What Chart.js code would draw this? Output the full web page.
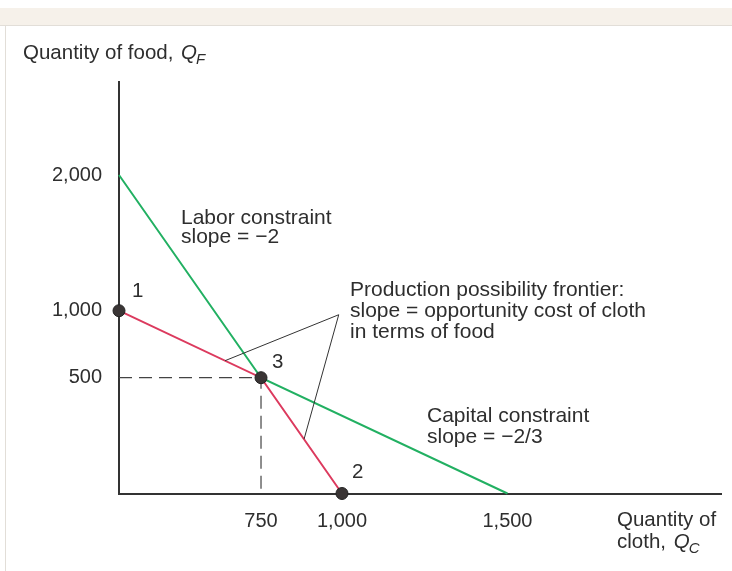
<!DOCTYPE html>
<html>
<head>
<meta charset="utf-8">
<script src="https://cdn.jsdelivr.net/npm/chart.js@4/dist/chart.umd.min.js"></script>
<style>
  html, body { margin: 0; padding: 0; background: #fff; }
  #wrap { width: 732px; height: 571px; }
</style>
</head>
<body>
<div id="wrap"><canvas id="ppf"></canvas></div>
<script>
// values
const pointNames = ['1', '2', '3'];
const pointCloth = [0, 1000, 750];
const pointFood = [1000, 0, 500];

const frontierCloth = [0, 750, 1000];
const frontierFood = [1000, 500, 0];

const constraintCloth = [0, 750, 1500];
const constraintFood = [2000, 500, 0];

const guideCloth = [0, 750, 750];
const guideFood = [500, 500, 0];

const leaderCloth = [560, 990, 883];
const leaderFood = [627, 970, 235];

const clothTicks = [750, 1000, 1500];
const foodTicks = [500, 1000, 2000];

// the textbook figure is not drawn to scale: value -> fraction of axis length
const KNOTS = {
  x: [[0, 0], [750, 0.2359], [1000, 0.3704], [1500, 0.6453], [2145, 1]],
  y: [[0, 0], [500, 0.2814], [1000, 0.4442], [2000, 0.774], [2685, 1]]
};

function lookup(knots, v, a, b) {
  for (let i = 1; i < knots.length; i++) {
    const p = knots[i - 1], q = knots[i];
    if (v <= q[a] || i === knots.length - 1) {
      return p[b] + (v - p[a]) / (q[a] - p[a]) * (q[b] - p[b]);
    }
  }
}

class PiecewiseScale extends Chart.LinearScale {
  getPixelForValue(value) {
    return this.getPixelForDecimal(lookup(KNOTS[this.axis], value, 0, 1));
  }
  getValueForPixel(pixel) {
    return lookup(KNOTS[this.axis], this.getDecimalForPixel(pixel), 1, 0);
  }
}
PiecewiseScale.id = 'piecewise';
PiecewiseScale.defaults = Chart.LinearScale.defaults;
Chart.register(PiecewiseScale);

const zip = (xs, ys) => xs.map((x, i) => ({ x: x, y: ys[i] }));

const FONT = '"Liberation Sans", Arial, sans-serif';
const INK = '#2e2e2e';

function subLabel(ctx, x, y, text, sym, sub) {
  ctx.font = '20.5px ' + FONT;
  ctx.fillText(text, x, y);
  x += ctx.measureText(text).width + 2;
  ctx.font = 'italic 20.5px ' + FONT;
  ctx.fillText(sym, x, y);
  x += ctx.measureText(sym).width;
  ctx.font = 'italic 15px ' + FONT;
  ctx.fillText(sub, x - 1, y + 5);
}

const textPlugin = {
  id: 'texts',
  beforeDraw(chart) {
    const ctx = chart.ctx;
    ctx.save();
    ctx.fillStyle = '#f6f1ea';
    ctx.fillRect(0, 8, chart.width, 17);
    ctx.strokeStyle = '#e2ded8';
    ctx.lineWidth = 1;
    ctx.beginPath();
    ctx.moveTo(0, 25.5); ctx.lineTo(chart.width, 25.5);
    ctx.moveTo(5.5, 25); ctx.lineTo(5.5, chart.height);
    ctx.stroke();
    ctx.restore();
  },
  afterDatasetsDraw(chart) {
    const ctx = chart.ctx;
    const xs = chart.scales.x, ys = chart.scales.y;
    ctx.save();
    ctx.fillStyle = INK;
    ctx.textBaseline = 'alphabetic';
    ctx.textAlign = 'left';

    subLabel(ctx, 23, 59, 'Quantity of food, ', 'Q', 'F');
    ctx.font = '20.5px ' + FONT;
    ctx.fillText('Quantity of', 617, 526);
    subLabel(ctx, 617, 548, 'cloth, ', 'Q', 'C');

    ctx.font = '21px ' + FONT;
    const lines = [
      [181, 224, 'Labor constraint'],
      [181, 243, 'slope = \u22122'],
      [350, 296, 'Production possibility frontier:'],
      [350, 317, 'slope = opportunity cost of cloth'],
      [350, 338, 'in terms of food'],
      [427, 422, 'Capital constraint'],
      [427, 443, 'slope = \u22122/3']
    ];
    lines.forEach(l => ctx.fillText(l[2], l[0], l[1]));

    ctx.font = '20.5px ' + FONT;
    const offs = [[13, -14], [10, -16], [11, -10]];
    pointNames.forEach((n, i) => {
      ctx.fillText(n, xs.getPixelForValue(pointCloth[i]) + offs[i][0],
        ys.getPixelForValue(pointFood[i]) + offs[i][1]);
    });
    ctx.restore();
  }
};

// Chart.js paints the first dataset on top, so the dots come first
new Chart(document.getElementById('ppf'), {
  type: 'scatter',
  data: {
    datasets: [
      {
        data: zip(pointCloth, pointFood),
        showLine: false, pointRadius: 6,
        pointBackgroundColor: '#3a3535', pointBorderColor: '#222',
        pointBorderWidth: 1, clip: false
      },
      {
        data: zip(leaderCloth, leaderFood),
        showLine: true, borderColor: '#333', borderWidth: 1,
        pointRadius: 0, clip: false
      },
      {
        data: zip(frontierCloth, frontierFood),
        showLine: true, borderColor: '#dc3a5e', borderWidth: 2,
        pointRadius: 0, clip: false
      },
      {
        data: zip(constraintCloth, constraintFood),
        showLine: true, borderColor: '#22b062', borderWidth: 2,
        pointRadius: 0, clip: false
      },
      {
        data: zip(guideCloth, guideFood),
        showLine: true, borderColor: '#444', borderWidth: 1.2,
        borderDash: [13, 7], pointRadius: 0, clip: false
      }
    ]
  },
  options: {
    responsive: true,
    maintainAspectRatio: false,
    animation: false,
    events: [],
    layout: { padding: { top: 82, right: 11, left: 0, bottom: 0 } },
    plugins: {
      legend: { display: false },
      tooltip: { enabled: false }
    },
    scales: {
      x: {
        type: 'piecewise',
        min: 0, max: 2145,
        grid: { display: false, drawTicks: false },
        border: { color: '#333', width: 2 },
        afterBuildTicks: s => { s.ticks = clothTicks.map(v => ({ value: v })); },
        afterFit: s => { s.height = 77.5; },
        ticks: {
          padding: 16, color: INK,
          font: { family: FONT, size: 20 },
          callback: v => v.toLocaleString('en-US')
        }
      },
      y: {
        type: 'piecewise',
        min: 0, max: 2685,
        grid: { display: false, drawTicks: false },
        border: { color: '#333', width: 2 },
        afterBuildTicks: s => { s.ticks = foodTicks.map(v => ({ value: v })); },
        afterFit: s => { s.width = 119; },
        ticks: {
          padding: 17, color: INK,
          font: { family: FONT, size: 20 },
          callback: v => v.toLocaleString('en-US')
        }
      }
    }
  },
  plugins: [textPlugin]
});
</script>
</body>
</html>
